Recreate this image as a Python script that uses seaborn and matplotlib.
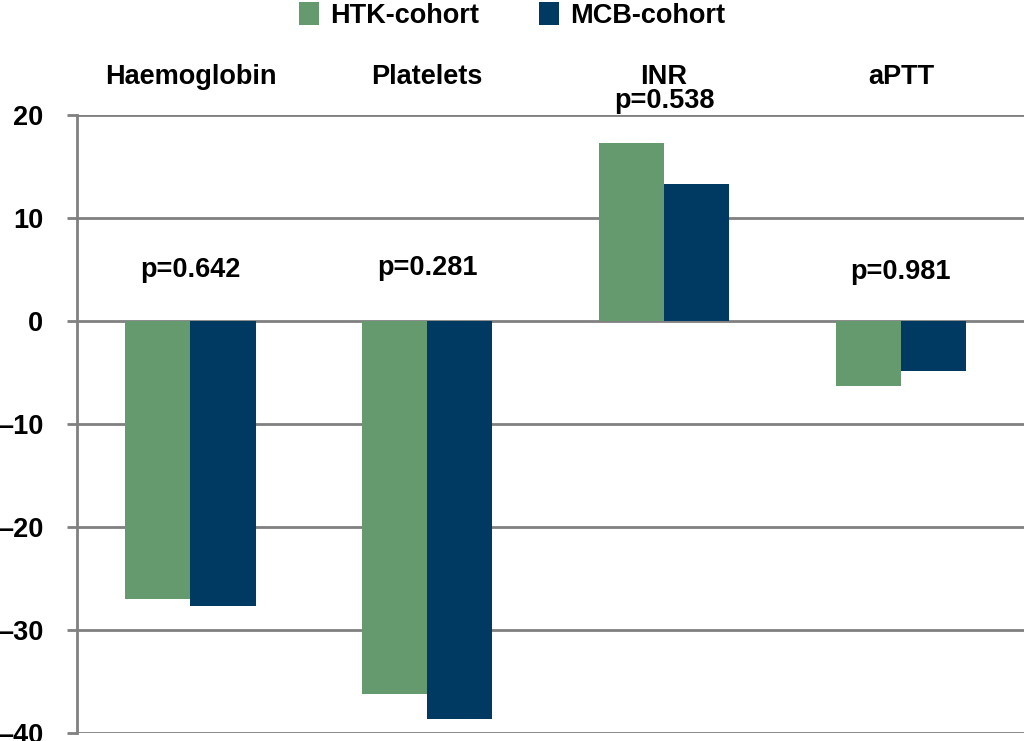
import pandas as pd
import matplotlib.pyplot as plt
import seaborn as sns

# Data
categories = ["Haemoglobin", "Platelets", "INR", "aPTT"]
htk_values = [-27.0, -36.2, 17.3, -6.3]
mcb_values = [-27.7, -38.7, 13.3, -4.9]
p_labels = ["p=0.642", "p=0.281", "p=0.538", "p=0.981"]
p_y = [4.9, 5.1, 21.3, 4.7]
yticks = [20, 10, 0, -10, -20, -30, -40]

df = pd.DataFrame({
    "parameter": categories * 2,
    "cohort": ["HTK-cohort"] * 4 + ["MCB-cohort"] * 4,
    "change": htk_values + mcb_values,
})

sns.set_style("white")
plt.rcParams["font.family"] = ["Liberation Sans", "DejaVu Sans"]
plt.rcParams["font.weight"] = "bold"
plt.rcParams["text.color"] = "black"
plt.rcParams["ytick.labelcolor"] = "black"

fs = 19.5

fig = plt.figure(figsize=(10.24, 7.41), dpi=100)
ax = fig.add_axes([0.075, 0.011, 0.925, 0.834])

palette = {"HTK-cohort": "#659a6e", "MCB-cohort": "#003a63"}
sns.barplot(data=df, x="parameter", y="change", hue="cohort", palette=palette,
            width=0.55, saturation=1, linewidth=0, ax=ax, legend=True)

ax.set_ylim(-40, 20)
ax.set_xlim(-0.48, 3.52)
ax.set_yticks(yticks)
ax.set_yticklabels([str(t).replace("-", "\u2013") for t in yticks],
                   fontsize=fs, fontweight="bold", color="black")
ax.set_xticks([])
ax.set_xlabel("")
ax.set_ylabel("")

ax.yaxis.grid(True, color="#808080", linewidth=2)
ax.set_axisbelow(True)
for side in ["top", "right", "bottom"]:
    ax.spines[side].set_visible(False)
ax.spines["left"].set_color("#808080")
ax.spines["left"].set_linewidth(2)
ax.tick_params(axis="y", length=7, width=2, color="#808080", pad=17, left=True)

# Category labels above the plot and p-values
for i, name in enumerate(categories):
    ax.text(i, 23.7, name, ha="center", va="center", fontsize=fs,
            fontweight="bold", color="black", clip_on=False)
    ax.text(i, p_y[i], p_labels[i], ha="center", va="center", fontsize=fs,
            fontweight="bold", color="black", clip_on=False)

handles, labels = ax.get_legend_handles_labels()
ax.get_legend().remove()
fig.legend(handles, labels, loc="upper center", bbox_to_anchor=(0.5, 1.03),
           ncol=2, frameon=False, fontsize=fs, handlelength=0.75,
           handleheight=0.9, handletextpad=0.4, columnspacing=2.2,
           labelcolor="black")

plt.savefig("out.png", dpi=100)
plt.close()
